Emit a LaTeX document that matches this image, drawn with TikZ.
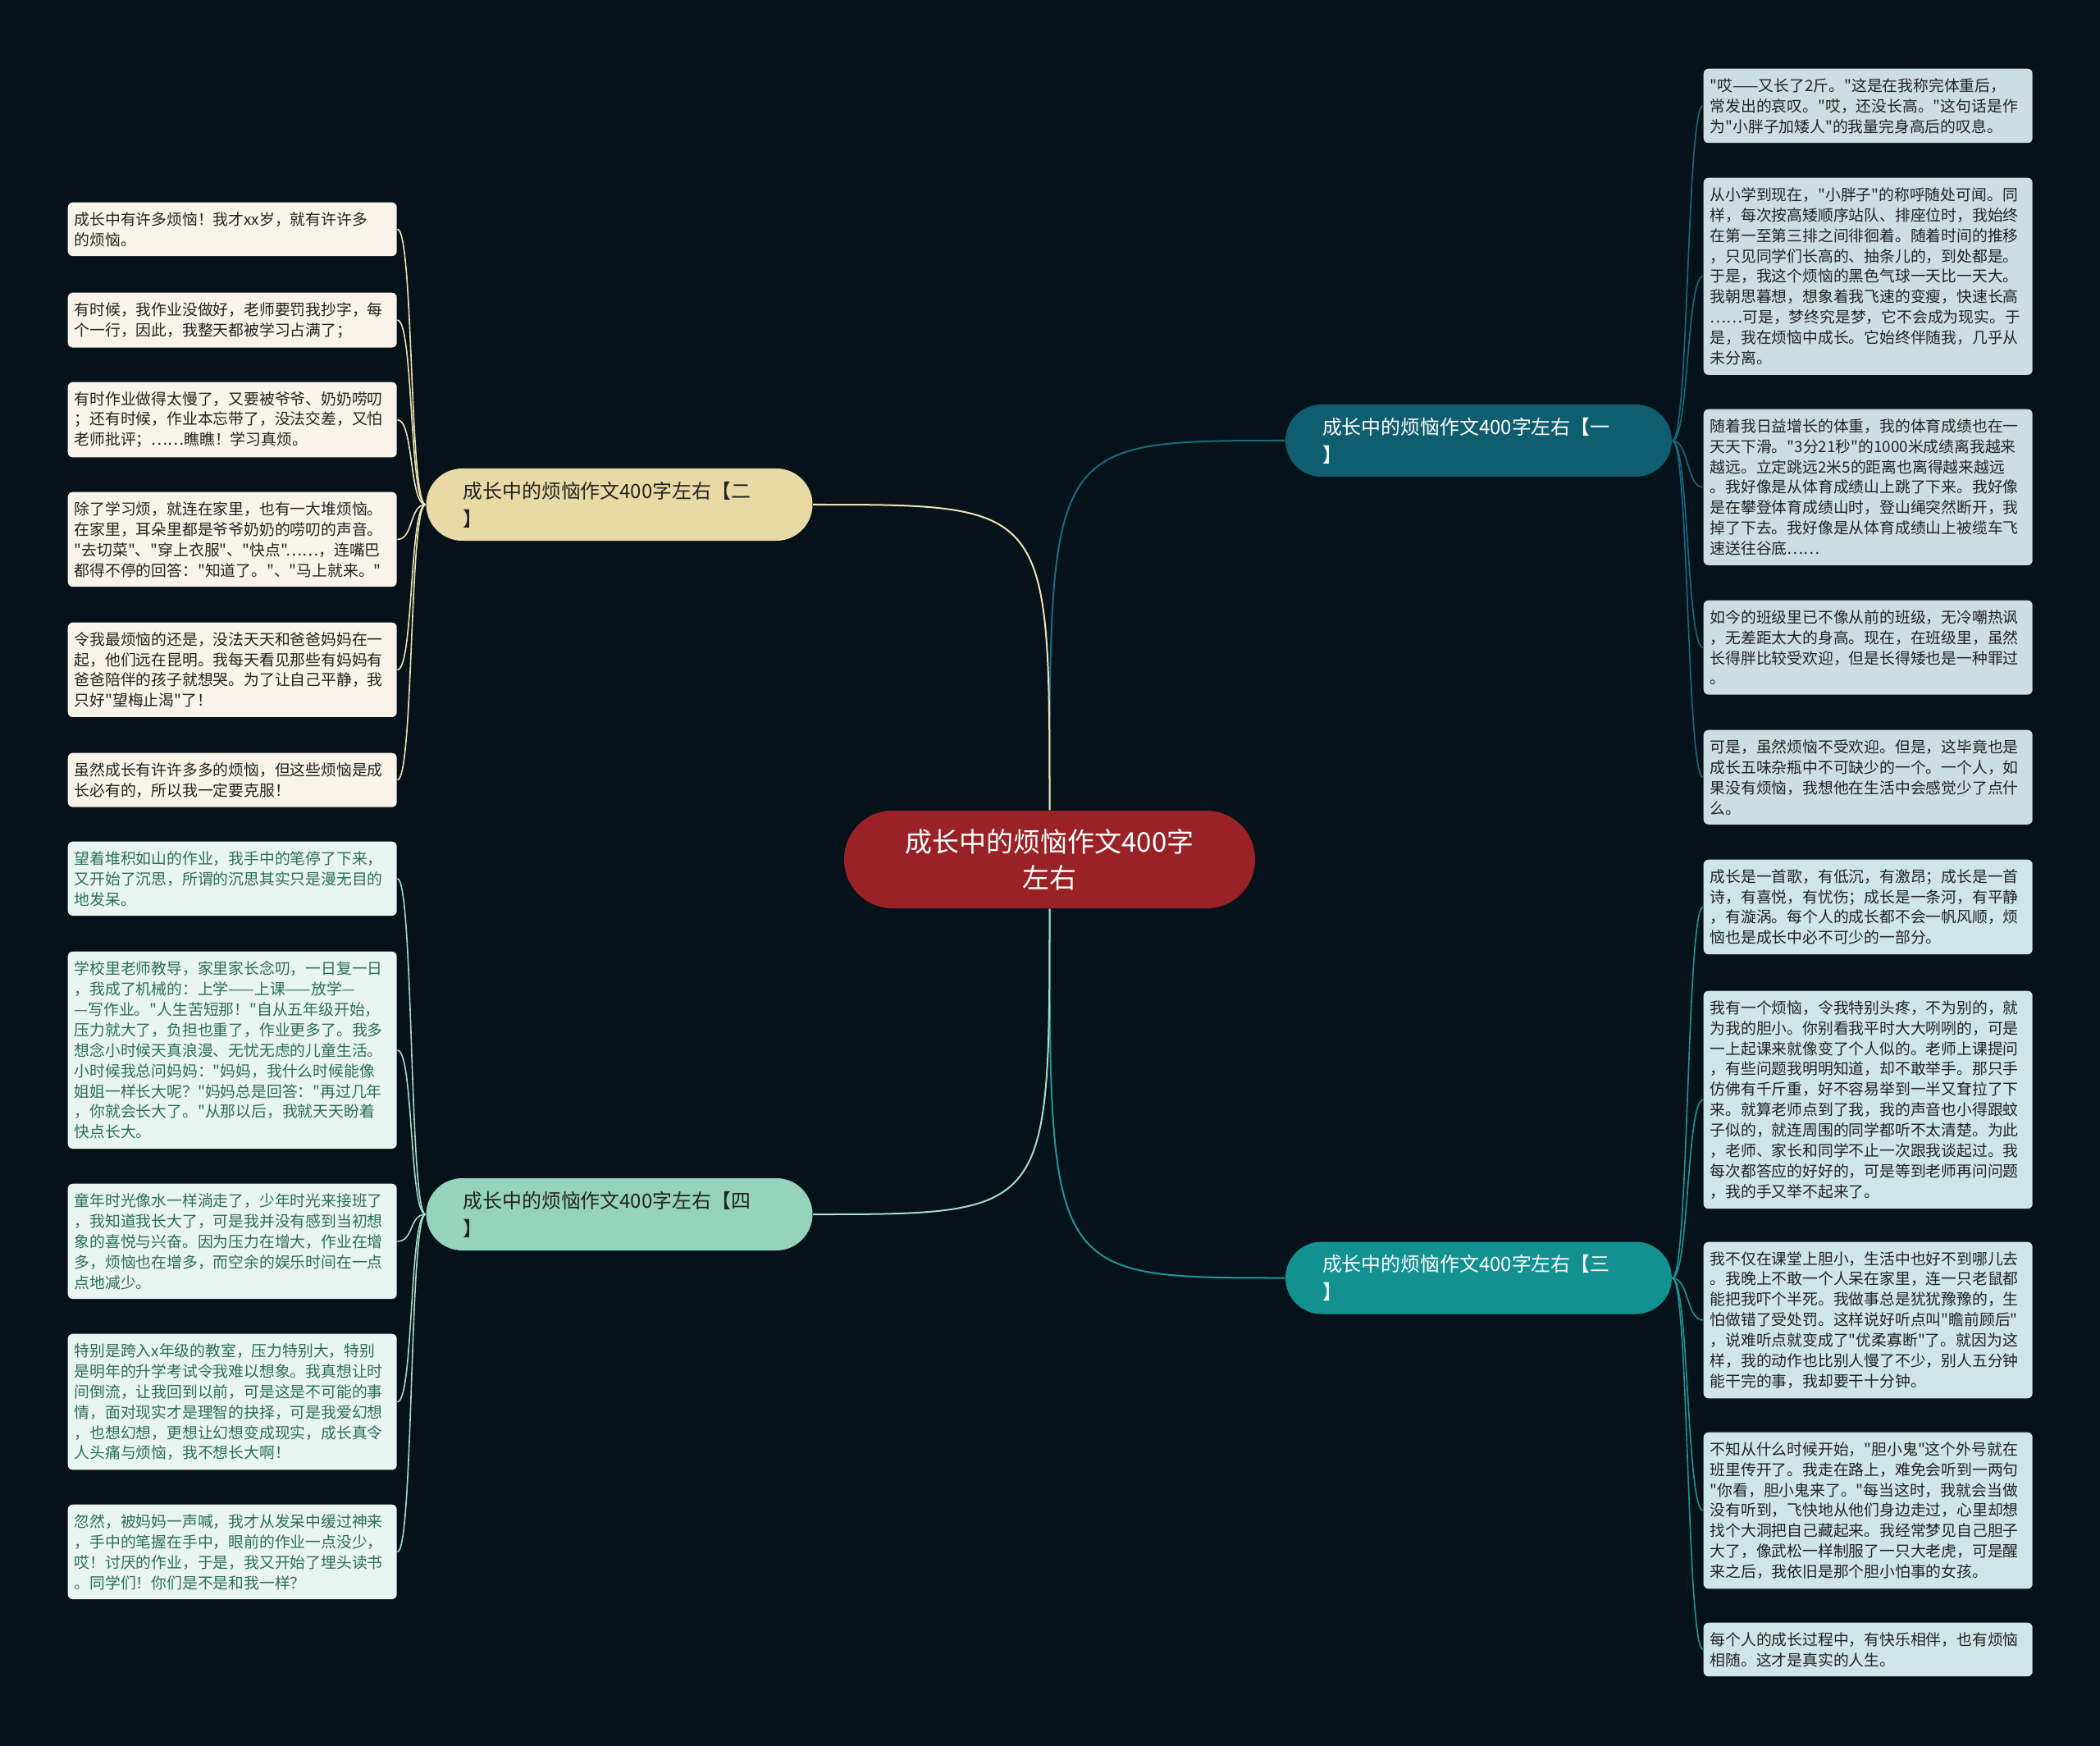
\documentclass[tikz,border=0pt]{standalone}
\usepackage{fontspec}
\newfontfamily\zhfont{Noto Sans CJK SC}
\usepackage{xcolor}
\definecolor{bg}{RGB}{5,18,26}
\definecolor{rootred}{RGB}{154,34,38}
\definecolor{onefill}{RGB}{15,94,112}
\definecolor{oneline}{RGB}{26,106,128}
\definecolor{onenote}{RGB}{205,222,227}
\definecolor{twofill}{RGB}{233,218,165}
\definecolor{twoline}{RGB}{241,227,176}
\definecolor{twonote}{RGB}{248,244,232}
\definecolor{threefill}{RGB}{19,145,145}
\definecolor{threeline}{RGB}{30,150,150}
\definecolor{threenote}{RGB}{207,230,232}
\definecolor{fourfill}{RGB}{150,211,188}
\definecolor{fourline}{RGB}{166,220,200}
\definecolor{fournote}{RGB}{232,245,240}
\definecolor{darktext}{RGB}{34,34,34}
\definecolor{greentext}{RGB}{44,110,88}

\begin{document}
\begin{tikzpicture}[
  root/.style={fill=rootred,text=white,rounded corners=0.59cm,minimum width=5.01cm,minimum height=1.19cm,align=center,font=\zhfont\fontsize{9.4pt}{12.5pt}\selectfont},
  branch/.style={rounded corners=0.44cm,minimum height=0.88cm,text width=3.81cm,inner xsep=0.45cm,align=left,font=\zhfont\fontsize{6.8pt}{9.7pt}\selectfont},
  note/.style={rounded corners=0.06cm,anchor=north west,text width=3.85cm,inner xsep=0.08cm,inner ysep=0.115cm,align=left,font=\zhfont\fontsize{5.35pt}{7.1pt}\selectfont},
  leafone/.style={note,fill=onenote,text=darktext},
  leaftwo/.style={note,fill=twonote,text=darktext},
  leafthree/.style={note,fill=threenote,text=darktext},
  leaffour/.style={note,fill=fournote,text=greentext},
  trunk/.style={line width=0.57pt},
  twig/.style={line width=0.45pt}]
  \fill[bg] (0,0) rectangle (25.6,-21.28);
  \useasboundingbox (0,0) rectangle (25.6,-21.28);

  \node[root] (root) at (12.795,-10.475) {成长中的烦恼作文400字\\左右};

  \node[branch,fill=onefill,text=white] (b1) at (18.025,-5.37) {成长中的烦恼作文400字左右【一\\】};
  \node[branch,fill=twofill,text=darktext] (b2) at (7.55,-6.15) {成长中的烦恼作文400字左右【二\\】};
  \node[branch,fill=threefill,text=white] (b3) at (18.025,-15.575) {成长中的烦恼作文400字左右【三\\】};
  \node[branch,fill=fourfill,text=darktext] (b4) at (7.55,-14.80) {成长中的烦恼作文400字左右【四\\】};

  \node[leafone] (r1) at (20.76,-0.83) {"哎——又长了2斤。"这是在我称完体重后，\\
常发出的哀叹。"哎，还没长高。"这句话是作\\
为"小胖子加矮人"的我量完身高后的叹息。};
  \node[leafone] (r2) at (20.76,-2.16) {从小学到现在，"小胖子"的称呼随处可闻。同\\
样，每次按高矮顺序站队、排座位时，我始终\\
在第一至第三排之间徘徊着。随着时间的推移\\
，只见同学们长高的、抽条儿的，到处都是。\\
于是，我这个烦恼的黑色气球一天比一天大。\\
我朝思暮想，想象着我飞速的变瘦，快速长高\\
……可是，梦终究是梦，它不会成为现实。于\\
是，我在烦恼中成长。它始终伴随我，几乎从\\
未分离。};
  \node[leafone] (r3) at (20.76,-4.98) {随着我日益增长的体重，我的体育成绩也在一\\
天天下滑。"3分21秒"的1000米成绩离我越来\\
越远。立定跳远2米5的距离也离得越来越远\\
。我好像是从体育成绩山上跳了下来。我好像\\
是在攀登体育成绩山时，登山绳突然断开，我\\
掉了下去。我好像是从体育成绩山上被缆车飞\\
速送往谷底……};
  \node[leafone] (r4) at (20.76,-7.31) {如今的班级里已不像从前的班级，无冷嘲热讽\\
，无差距太大的身高。现在，在班级里，虽然\\
长得胖比较受欢迎，但是长得矮也是一种罪过\\
。};
  \node[leafone] (r5) at (20.76,-8.89) {可是，虽然烦恼不受欢迎。但是，这毕竟也是\\
成长五味杂瓶中不可缺少的一个。一个人，如\\
果没有烦恼，我想他在生活中会感觉少了点什\\
么。};

  \node[leafthree] (r6) at (20.76,-10.47) {成长是一首歌，有低沉，有激昂；成长是一首\\
诗，有喜悦，有忧伤；成长是一条河，有平静\\
，有漩涡。每个人的成长都不会一帆风顺，烦\\
恼也是成长中必不可少的一部分。};
  \node[leafthree] (r7) at (20.76,-12.07) {我有一个烦恼，令我特别头疼，不为别的，就\\
为我的胆小。你别看我平时大大咧咧的，可是\\
一上起课来就像变了个人似的。老师上课提问\\
，有些问题我明明知道，却不敢举手。那只手\\
仿佛有千斤重，好不容易举到一半又耷拉了下\\
来。就算老师点到了我，我的声音也小得跟蚊\\
子似的，就连周围的同学都听不太清楚。为此\\
，老师、家长和同学不止一次跟我谈起过。我\\
每次都答应的好好的，可是等到老师再问问题\\
，我的手又举不起来了。};
  \node[leafthree] (r8) at (20.76,-15.13) {我不仅在课堂上胆小，生活中也好不到哪儿去\\
。我晚上不敢一个人呆在家里，连一只老鼠都\\
能把我吓个半死。我做事总是犹犹豫豫的，生\\
怕做错了受处罚。这样说好听点叫"瞻前顾后"\\
，说难听点就变成了"优柔寡断"了。就因为这\\
样，我的动作也比别人慢了不少，别人五分钟\\
能干完的事，我却要干十分钟。};
  \node[leafthree] (r9) at (20.76,-17.45) {不知从什么时候开始，"胆小鬼"这个外号就在\\
班里传开了。我走在路上，难免会听到一两句\\
"你看，胆小鬼来了。"每当这时，我就会当做\\
没有听到，飞快地从他们身边走过，心里却想\\
找个大洞把自己藏起来。我经常梦见自己胆子\\
大了，像武松一样制服了一只大老虎，可是醒\\
来之后，我依旧是那个胆小怕事的女孩。};
  \node[leafthree] (r10) at (20.76,-19.77) {每个人的成长过程中，有快乐相伴，也有烦恼\\
相随。这才是真实的人生。};

  \node[leaftwo] (l1) at (0.82,-2.46) {成长中有许多烦恼！我才xx岁，就有许许多\\
的烦恼。};
  \node[leaftwo] (l2) at (0.82,-3.56) {有时候，我作业没做好，老师要罚我抄字，每\\
个一行，因此，我整天都被学习占满了；};
  \node[leaftwo] (l3) at (0.82,-4.65) {有时作业做得太慢了，又要被爷爷、奶奶唠叨\\
；还有时候，作业本忘带了，没法交差，又怕\\
老师批评；……瞧瞧！学习真烦。};
  \node[leaftwo] (l4) at (0.82,-5.99) {除了学习烦，就连在家里，也有一大堆烦恼。\\
在家里，耳朵里都是爷爷奶奶的唠叨的声音。\\
"去切菜"、"穿上衣服"、"快点"……，连嘴巴\\
都得不停的回答："知道了。"、"马上就来。"};
  \node[leaftwo] (l5) at (0.82,-7.58) {令我最烦恼的还是，没法天天和爸爸妈妈在一\\
起，他们远在昆明。我每天看见那些有妈妈有\\
爸爸陪伴的孩子就想哭。为了让自己平静，我\\
只好"望梅止渴"了！};
  \node[leaftwo] (l6) at (0.82,-9.17) {虽然成长有许许多多的烦恼，但这些烦恼是成\\
长必有的，所以我一定要克服！};

  \node[leaffour] (l7) at (0.82,-10.25) {望着堆积如山的作业，我手中的笔停了下来，\\
又开始了沉思，所谓的沉思其实只是漫无目的\\
地发呆。};
  \node[leaffour] (l8) at (0.82,-11.59) {学校里老师教导，家里家长念叨，一日复一日\\
，我成了机械的：上学——上课——放学—\\
—写作业。"人生苦短那！"自从五年级开始，\\
压力就大了，负担也重了，作业更多了。我多\\
想念小时候天真浪漫、无忧无虑的儿童生活。\\
小时候我总问妈妈："妈妈，我什么时候能像\\
姐姐一样长大呢？"妈妈总是回答："再过几年\\
，你就会长大了。"从那以后，我就天天盼着\\
快点长大。};
  \node[leaffour] (l9) at (0.82,-14.42) {童年时光像水一样淌走了，少年时光来接班了\\
，我知道我长大了，可是我并没有感到当初想\\
象的喜悦与兴奋。因为压力在增大，作业在增\\
多，烦恼也在增多，而空余的娱乐时间在一点\\
点地减少。};
  \node[leaffour] (l10) at (0.82,-16.25) {特别是跨入x年级的教室，压力特别大，特别\\
是明年的升学考试令我难以想象。我真想让时\\
间倒流，让我回到以前，可是这是不可能的事\\
情，面对现实才是理智的抉择，可是我爱幻想\\
，也想幻想，更想让幻想变成现实，成长真令\\
人头痛与烦恼，我不想长大啊！};
  \node[leaffour] (l11) at (0.82,-18.33) {忽然，被妈妈一声喊，我才从发呆中缓过神来\\
，手中的笔握在手中，眼前的作业一点没少，\\
哎！讨厌的作业，于是，我又开始了埋头读书\\
。同学们！你们是不是和我一样？};

  \draw[trunk,oneline] (root.north) .. controls (root.north |- b1.west) .. (b1.west);
  \draw[trunk,twoline] (root.north) .. controls (root.north |- b2.east) .. (b2.east);
  \draw[trunk,threeline] (root.south) .. controls (root.south |- b3.west) .. (b3.west);
  \draw[trunk,fourline] (root.south) .. controls (root.south |- b4.east) .. (b4.east);

  \draw[twig,oneline] (b1.east) .. controls +(0.2,0) and +(-0.2,0) .. (r1.west);
  \draw[twig,oneline] (b1.east) .. controls +(0.2,0) and +(-0.2,0) .. (r2.west);
  \draw[twig,oneline] (b1.east) .. controls +(0.2,0) and +(-0.2,0) .. (r3.west);
  \draw[twig,oneline] (b1.east) .. controls +(0.2,0) and +(-0.2,0) .. (r4.west);
  \draw[twig,oneline] (b1.east) .. controls +(0.2,0) and +(-0.2,0) .. (r5.west);

  \draw[twig,threeline] (b3.east) .. controls +(0.2,0) and +(-0.2,0) .. (r6.west);
  \draw[twig,threeline] (b3.east) .. controls +(0.2,0) and +(-0.2,0) .. (r7.west);
  \draw[twig,threeline] (b3.east) .. controls +(0.2,0) and +(-0.2,0) .. (r8.west);
  \draw[twig,threeline] (b3.east) .. controls +(0.2,0) and +(-0.2,0) .. (r9.west);
  \draw[twig,threeline] (b3.east) .. controls +(0.2,0) and +(-0.2,0) .. (r10.west);

  \draw[twig,twoline] (b2.west) .. controls +(-0.2,0) and +(0.2,0) .. (l1.east);
  \draw[twig,twoline] (b2.west) .. controls +(-0.2,0) and +(0.2,0) .. (l2.east);
  \draw[twig,twoline] (b2.west) .. controls +(-0.2,0) and +(0.2,0) .. (l3.east);
  \draw[twig,twoline] (b2.west) .. controls +(-0.2,0) and +(0.2,0) .. (l4.east);
  \draw[twig,twoline] (b2.west) .. controls +(-0.2,0) and +(0.2,0) .. (l5.east);
  \draw[twig,twoline] (b2.west) .. controls +(-0.2,0) and +(0.2,0) .. (l6.east);

  \draw[twig,fourline] (b4.west) .. controls +(-0.2,0) and +(0.2,0) .. (l7.east);
  \draw[twig,fourline] (b4.west) .. controls +(-0.2,0) and +(0.2,0) .. (l8.east);
  \draw[twig,fourline] (b4.west) .. controls +(-0.2,0) and +(0.2,0) .. (l9.east);
  \draw[twig,fourline] (b4.west) .. controls +(-0.2,0) and +(0.2,0) .. (l10.east);
  \draw[twig,fourline] (b4.west) .. controls +(-0.2,0) and +(0.2,0) .. (l11.east);
\end{tikzpicture}
\end{document}
